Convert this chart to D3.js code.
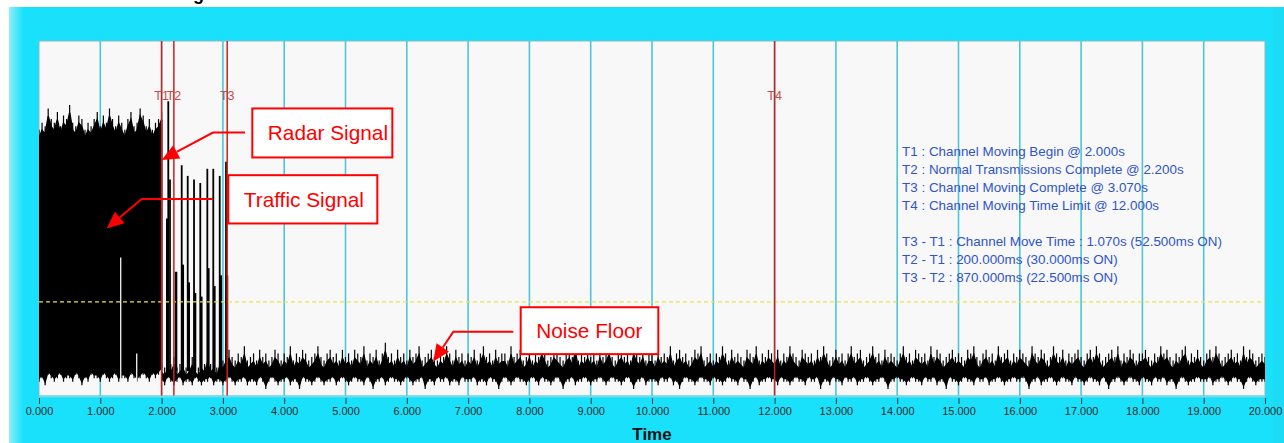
<!DOCTYPE html>
<html><head><meta charset="utf-8">
<script src="https://cdn.jsdelivr.net/npm/d3@7"></script>
<style>html,body{margin:0;padding:0;background:#fff;overflow:hidden}text{font-family:"Liberation Sans",Arial,sans-serif}</style>
</head><body>
<svg id="chart" width="1284" height="443"></svg>
<script>
// ---------------- DATA ----------------
const tickValues = [0,1,2,3,4,5,6,7,8,9,10,11,12,13,14,15,16,17,18,19,20];
const gridTimes = [1,2,3,4,5,6,7,8,9,10,11,12,13,14,15,16,17,18,19];
const sampleStep = 0.05;
// Radar burst envelope, t = 0.00 .. 2.00 (level units 0-100)
const radarStart = 0;
const radarTop = [75,77,76,81,78,77,80,76,79,78, 82,77,76,79,78,75,77,76,78,80, 76,79,77,81,78,76,79,77,75,78, 80,76,77,81,79,76,78,75,77,78, 80];
const radarBottom = [4,5,3,6,5,4,5,6,4,5, 5,4,6,5,3,5,4,6,5,5, 4,6,5,4,5,6,4,5,5,4, 6,5,4,5,6,5,4,6,5,6, 7];
// Noise floor envelope, t = 2.00 .. 20.00
const floorStart = 2.0;
const floorTop = [
9,8,10,9,11,8,9,10,8,9,11,9,8,10,9,12,9,10,8,11,
10,12,13,11,10,12,11,14,10,11,12,10,13,11,12,10,11,13,12,10,
12,11,14,10,12,11,13,12,10,11,12,14,11,10,12,13,11,12,10,13,
11,12,10,13,12,11,14,10,12,11,13,10,12,15,11,12,10,13,11,12,
10,13,11,12,14,10,11,12,13,11,10,12,11,14,12,10,13,11,12,10,
12,11,13,10,12,14,11,12,10,13,11,12,12,10,14,11,12,13,10,11,
13,10,12,11,14,12,10,11,13,12,11,10,12,13,11,15,10,12,11,13,
11,12,10,13,11,12,14,11,10,12,13,11,12,10,14,12,11,13,10,12,
12,10,13,11,12,11,14,10,12,13,11,12,10,11,13,12,14,10,11,12,
10,12,11,14,12,10,13,11,12,11,10,13,12,11,14,10,12,11,13,12,
11,13,10,12,11,14,12,11,10,13,12,11,12,10,13,11,14,12,10,11,
13,11,12,10,12,14,11,12,13,10,11,12,14,11,12,10,13,11,12,11,
10,12,14,11,12,10,13,12,11,12,10,14,11,13,12,10,11,12,13,11,
12,11,10,13,12,14,11,10,12,13,11,12,10,14,11,12,13,10,12,11,
13,12,11,10,14,12,11,13,12,10,11,14,12,11,13,10,12,11,12,13,
11,10,12,13,11,14,12,10,11,12,13,11,14,10,12,11,13,12,10,12,
12,13,11,10,12,11,14,12,13,11,10,12,11,13,14,10,12,11,13,11,
10,12,13,11,14,12,10,11,12,13,11,12,10,14,11,13,12,10,11,12,
11];
const floorBottom = [
4,3,5,4,3,4,5,3,4,4,3,5,4,3,4,4,5,3,4,4,
3,4,5,4,3,4,4,5,3,4,4,3,5,4,2,4,5,4,3,4,
4,5,3,4,4,2,5,4,4,3,4,5,4,3,4,4,5,3,4,5,
4,3,4,5,4,4,3,5,4,2,4,4,5,3,4,5,4,4,3,4,
5,4,3,4,4,5,2,4,4,3,5,4,4,5,3,4,4,3,5,4,
4,4,5,3,4,4,3,5,4,4,2,4,5,4,3,4,5,4,4,3,
4,5,4,3,5,4,4,3,4,5,4,2,4,4,5,3,4,4,5,4,
3,4,4,5,4,3,4,5,4,4,3,4,5,4,2,4,4,5,3,4,
4,4,3,5,4,4,5,3,4,2,4,5,4,4,3,4,5,4,4,3,
5,4,4,3,4,5,4,4,3,5,4,4,2,4,5,3,4,4,5,4,
4,3,5,4,4,3,4,5,4,4,3,5,4,4,5,2,4,4,3,5,
4,4,3,5,4,4,5,3,4,4,5,4,3,4,4,5,4,2,4,4,
5,4,4,3,4,5,4,4,3,5,4,4,5,3,4,4,2,5,4,4,
3,4,5,4,4,3,5,4,4,5,3,4,4,5,4,3,4,4,5,4,
4,5,4,2,4,4,5,3,4,4,5,4,3,4,5,4,4,3,5,4,
4,3,4,5,4,4,3,5,4,2,4,4,5,4,3,4,5,4,4,3,
5,4,4,3,5,4,4,5,3,4,4,2,4,5,4,3,4,4,5,4,
4,4,5,3,4,4,5,4,3,4,5,4,4,2,4,5,4,3,4,4,
4];
// Traffic bursts between T1 and T3
const trafficTimes = [2.109,2.137,2.328,2.426,2.529,2.631,2.746,2.843,2.948,3.051];
const trafficPeaks = [83,61,65,62,61,60,64,64,62,66];
const trafficTailTimes = [2.093,2.235,2.345,2.442,2.545,2.647,2.762,2.860,2.965,3.066];
const trafficTailPeaks = [50,35,37,32,29,28,36,31,34,34];
const trafficBase = 7;
// Gaps inside the radar burst
const gapTimes = [1.333,1.594];
const gapTops = [39,12];
const gapBase = 3;
// Detection threshold
const thresholdLevel = 26.5;
// Markers
const markerNames = ["T1","T2","T3","T4"];
const markerTimes = [2.0,2.2,3.07,12.0];
// Legend text
const legendLines = [
 "T1 : Channel Moving Begin @ 2.000s",
 "T2 : Normal Transmissions Complete @ 2.200s",
 "T3 : Channel Moving Complete @ 3.070s",
 "T4 : Channel Moving Time Limit @ 12.000s",
 "",
 "T3 - T1 : Channel Move Time : 1.070s (52.500ms ON)",
 "T2 - T1 : 200.000ms (30.000ms ON)",
 "T3 - T2 : 870.000ms (22.500ms ON)"
];
const annotationLabels = ["Radar Signal","Traffic Signal","Noise Floor"];
const xTitle = "Time";
const chartTitle = "Channel Closing";

// ---------------- LAYOUT (data-space anchors for callouts) ----------------
const calloutLayout = [
 {box:[3.480,5.764,81.0,67.2], path:[[3.361,74.2],[2.838,74.2],[2.002,66.5]]},
 {box:[3.088,5.519,62.2,48.6], path:[[2.838,55.5],[1.675,55.5],[1.104,47.2]]},
 {box:[7.858,10.103,25.0,11.8], path:[[7.737,18.1],[6.759,18.1],[6.432,9.7]]}
];

// ---------------- DRAW ----------------
const W = 1284, H = 443;
const P = {left:39, right:1265, top:41, bottom:396};
const svg = d3.select("#chart");
const x = d3.scaleLinear().domain([0,20]).range([P.left,P.right]);
const y = d3.scaleLinear().domain([0,100]).range([P.bottom,P.top]);

const defs = svg.append("defs");
const lg = defs.append("linearGradient").attr("id","leftShade").attr("x1","0").attr("x2","1");
lg.append("stop").attr("offset","0").attr("stop-color","#8eeefb");
lg.append("stop").attr("offset","1").attr("stop-color","#1ae1fb");
const clip = defs.append("clipPath").attr("id","plotClip");
clip.append("rect").attr("x",P.left).attr("y",P.top).attr("width",P.right-P.left).attr("height",P.bottom-P.top);

svg.append("rect").attr("width",W).attr("height",H).attr("fill","#ffffff");
svg.append("rect").attr("x",9).attr("y",7).attr("width",W-9).attr("height",H-7).attr("fill","#1ae1fb");
svg.append("rect").attr("x",9).attr("y",7).attr("width",14).attr("height",H-7).attr("fill","url(#leftShade)");
svg.append("rect").attr("x",1273).attr("y",7).attr("width",11).attr("height",H-7).attr("fill","#1cdbf4");

svg.append("text").attr("x",204).attr("y",-0.5).attr("text-anchor","end")
  .attr("font-size",18).attr("font-weight","bold").attr("fill","#000").text(chartTitle);

// plot background
svg.append("rect").attr("x",P.left).attr("y",P.top).attr("width",P.right-P.left).attr("height",P.bottom-P.top)
  .attr("fill","#f8f8f8").attr("stroke","#86b9c4").attr("stroke-width",1);

// grid
svg.append("g").selectAll("line").data(gridTimes).join("line")
  .attr("x1",d=>x(d)).attr("x2",d=>x(d)).attr("y1",P.top).attr("y2",P.bottom)
  .attr("stroke","#4cc6d8").attr("stroke-width",1.6);

// signal: dense core plus needles at every sample
const radarData = radarTop.map((v,i)=>({t:radarStart+i*sampleStep, hi:v, lo:radarBottom[i]}));
const floorData = floorTop.map((v,i)=>({t:floorStart+i*sampleStep, hi:v, lo:floorBottom[i]}));
const sig = svg.append("g").attr("clip-path","url(#plotClip)");
const coreArea = (dLo, dHi) => d3.area().x(d=>x(d.t)).y0(d=>y(d.lo+dLo)).y1(d=>y(d.hi-dHi));
sig.append("path").datum(radarData).attr("d",coreArea(1.0,2.2)).attr("fill","#000").attr("stroke","#000").attr("stroke-width",1.5);
sig.append("path").datum(floorData).attr("d",coreArea(0.9,2.3)).attr("fill","#000").attr("stroke","#000").attr("stroke-width",1.2);
sig.append("g").selectAll("line").data(radarData.concat(floorData)).join("line")
  .attr("x1",d=>x(d.t)).attr("x2",d=>x(d.t)).attr("y1",d=>y(d.lo)).attr("y2",d=>y(d.hi))
  .attr("stroke","#000").attr("stroke-width",1.2);

sig.append("g").selectAll("line").data(trafficTailTimes).join("line")
  .attr("x1",d=>x(d)).attr("x2",d=>x(d)).attr("y1",y(trafficBase)).attr("y2",(d,i)=>y(trafficTailPeaks[i]))
  .attr("stroke","#000").attr("stroke-width",2.6);
sig.append("g").selectAll("line").data(trafficTimes).join("line")
  .attr("x1",d=>x(d)).attr("x2",d=>x(d)).attr("y1",y(trafficBase)).attr("y2",(d,i)=>y(trafficPeaks[i]))
  .attr("stroke","#000").attr("stroke-width",1.8);
sig.append("g").selectAll("line").data(gapTimes).join("line")
  .attr("x1",d=>x(d)).attr("x2",d=>x(d)).attr("y1",y(gapBase)).attr("y2",(d,i)=>y(gapTops[i]))
  .attr("stroke","#f4f4f4").attr("stroke-width",1.3);

// threshold
svg.append("line").attr("x1",P.left).attr("x2",P.right).attr("y1",y(thresholdLevel)).attr("y2",y(thresholdLevel))
  .attr("stroke","#e8e64a").attr("stroke-width",1.2).attr("stroke-dasharray","4,3");

// markers
const mk = svg.append("g");
mk.selectAll("line").data(markerTimes).join("line")
  .attr("x1",d=>x(d)).attr("x2",d=>x(d)).attr("y1",P.top).attr("y2",P.bottom)
  .attr("stroke","#cc2020").attr("stroke-width",1.5);
mk.selectAll("text").data(markerTimes).join("text")
  .attr("x",d=>x(d)).attr("y",99.5).attr("text-anchor","middle").attr("font-size",12.5)
  .attr("fill","#c0504a").text((d,i)=>markerNames[i]);

// legend
svg.append("g").selectAll("text").data(legendLines).join("text")
  .attr("x",x(14.08)).attr("y",(d,i)=>156.4+i*18).attr("font-size",13.4).attr("fill","#2f55c8").text(d=>d);

// callouts
const red = "#ff0000";
calloutLayout.forEach((c,i)=>{
  const g = svg.append("g");
  const pts = c.path.map(p=>[x(p[0]),y(p[1])]);
  const tip = pts[pts.length-1], prev = pts[pts.length-2];
  const dx = tip[0]-prev[0], dy = tip[1]-prev[1], len = Math.hypot(dx,dy);
  const ux = dx/len, uy = dy/len, L = 17, hw = 7.5;
  const bx = tip[0]-ux*L, by = tip[1]-uy*L;
  const linePts = pts.slice(0,-1).concat([[bx,by]]);
  g.append("path").attr("d",d3.line()(linePts)).attr("fill","none").attr("stroke",red).attr("stroke-width",2);
  g.append("path").attr("d",d3.line()([tip,[bx-uy*hw,by+ux*hw],[bx+uy*hw,by-ux*hw]])+"Z").attr("fill",red);
  const x0 = x(c.box[0]), x1 = x(c.box[1]), y0 = y(c.box[2]), y1 = y(c.box[3]);
  g.append("rect").attr("x",x0).attr("y",y0).attr("width",x1-x0).attr("height",y1-y0)
    .attr("fill","#fff").attr("stroke",red).attr("stroke-width",2);
  g.append("text").attr("x",x0+15.5).attr("y",(y0+y1)/2+7.5).attr("font-size",20.8).attr("fill",red).text(annotationLabels[i]);
});

// axis
svg.append("line").attr("x1",P.left).attr("x2",P.right).attr("y1",P.bottom+0.5).attr("y2",P.bottom+0.5)
  .attr("stroke","#6fdcec").attr("stroke-width",2);
const ax = svg.append("g").attr("transform",`translate(0,${P.bottom+2})`)
  .call(d3.axisBottom(x).tickValues(tickValues).tickFormat(d3.format(".3f")).tickSize(6).tickPadding(3.5));
ax.select(".domain").remove();
ax.selectAll(".tick line").attr("stroke","#333");
ax.selectAll(".tick text").attr("font-size",11).attr("fill","#2a2a2a").attr("font-family","'Liberation Sans',Arial,sans-serif");
svg.append("text").attr("x",(P.left+P.right)/2).attr("y",440).attr("text-anchor","middle")
  .attr("font-size",17).attr("font-weight","bold").attr("fill","#111").text(xTitle);
</script>
</body></html>
